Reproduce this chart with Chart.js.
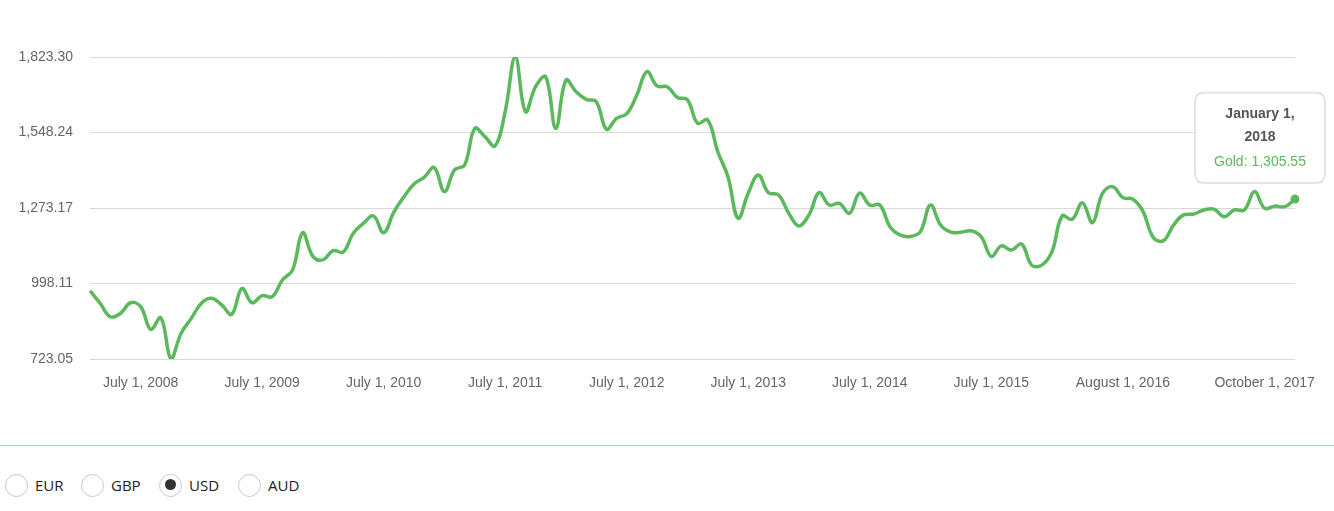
<!DOCTYPE html>
<html>
<head>
<meta charset="utf-8">
<script src="https://cdn.jsdelivr.net/npm/chart.js@4.4.0/dist/chart.umd.min.js"></script>
<style>
    body {
        margin: 0;
        background: #fff;
        font-family: "Helvetica Neue", Helvetica, Arial, "Liberation Sans", sans-serif;
    }
    #chart-card {
        position: relative;
        width: 1334px;
        height: 410px;
    }
    .divider {
        position: absolute;
        top: 445px;
        left: 0;
        width: 1334px;
        border-top: 1px solid #e3c46f;
    }
    .currency {
        position: absolute;
        top: 473px;
        height: 24px;
        display: flex;
        align-items: center;
        font-family: "Open Sans", sans-serif;
        font-size: 15px;
        color: #222;
    }
    .radio {
        box-sizing: border-box;
        width: 23px;
        height: 23px;
        border: 1.5px solid #c9c9c9;
        border-radius: 50%;
        margin-right: 7px;
        position: relative;
    }
    .radio.on::after {
        content: "";
        position: absolute;
        left: 4.5px;
        top: 4.5px;
        width: 11px;
        height: 11px;
        border-radius: 50%;
        background: #333;
    }
</style>
</head>
<body>
<div id="chart-card">
    <canvas id="chart1"></canvas>
</div>
<div class="divider"></div>
<div class="currency" style="left:5px"><span class="radio"></span>EUR</div>
<div class="currency" style="left:81px"><span class="radio"></span>GBP</div>
<div class="currency" style="left:159px"><span class="radio on"></span>USD</div>
<div class="currency" style="left:238px"><span class="radio"></span>AUD</div>

<script>
var monthNames = ["January", "February", "March", "April", "May", "June",
    "July", "August", "September", "October", "November", "December"];

// first point is February 1, 2008, one point per month
var firstMonth = 1;
var firstYear = 2008;

var goldPrices = [
    972, 926, 877, 889, 928, 914, 831, 873, 723.05, 817, 871,
    926, 944, 920, 886, 980, 928, 954, 950, 1011, 1047, 1183, 1098,
    1084, 1118, 1113, 1181, 1217, 1244, 1183, 1258, 1314, 1361, 1385, 1420,
    1333, 1412, 1430, 1563, 1533, 1499, 1624, 1823.30, 1624, 1715, 1751, 1563,
    1739, 1697, 1669, 1660, 1560, 1600, 1616, 1685, 1770, 1718, 1715, 1676,
    1667, 1582, 1594, 1478, 1387, 1236, 1327, 1393, 1329, 1321, 1254, 1208,
    1248, 1329, 1284, 1290, 1254, 1327, 1284, 1284, 1205, 1175, 1169, 1187,
    1284, 1211, 1185, 1185, 1190, 1169, 1097, 1135, 1120, 1142, 1065, 1065,
    1114, 1244, 1232, 1292, 1220, 1327, 1351, 1311, 1305, 1260, 1166, 1154,
    1211, 1248, 1251, 1266, 1269, 1241, 1266, 1266, 1333, 1272, 1280, 1278,
    1305.55
];

var shownTicks = ["July 1, 2008", "July 1, 2009", "July 1, 2010", "July 1, 2011",
    "July 1, 2012", "July 1, 2013", "July 1, 2014", "July 1, 2015",
    "August 1, 2016", "October 1, 2017"];

var yTicks = [723.05, 998.11, 1273.17, 1548.24, 1823.30];

var labels = [];
for (var i = 0; i < goldPrices.length; i++) {
    var m = firstMonth + i;
    labels.push(monthNames[m % 12] + " 1, " + (firstYear + Math.floor(m / 12)));
}

var last = goldPrices.length - 1;
var green = "#5cb85c";
var money = function (v) {
    return v.toLocaleString("en-US", { minimumFractionDigits: 2, maximumFractionDigits: 2 });
};

Chart.Tooltip.positioners.upLeft = function (items) {
    if (!items.length)
        return false;
    return { x: items[0].element.x - 35, y: items[0].element.y };
};

var config = {
    type: "line",
    data: {
        labels: labels,
        datasets: [{
            label: "Gold",
            data: goldPrices,
            borderColor: green,
            backgroundColor: green,
            borderWidth: 3.5,
            tension: 0.4,
            fill: false,
            // only the hovered last point shows its dot
            pointRadius: function (c) { return c.dataIndex === last ? 4.5 : 0; },
            pointBorderWidth: 0,
            pointBackgroundColor: green,
            pointHoverRadius: 4.5,
            pointHoverBorderWidth: 0,
            pointHoverBackgroundColor: green
        }]
    },
    options: {
        responsive: true,
        maintainAspectRatio: false,
        animation: false,
        events: [],
        layout: {
            padding: { left: 0, right: 39, top: 57, bottom: 11 }
        },
        plugins: {
            legend: { display: false },
            tooltip: {
                position: "upLeft",
                xAlign: "center",
                yAlign: "bottom",
                caretSize: 0,
                caretPadding: 16,
                backgroundColor: "#fff",
                borderColor: "#e4e4e4",
                borderWidth: 2,
                cornerRadius: 9,
                padding: { x: 19, y: 13 },
                displayColors: false,
                titleAlign: "center",
                bodyAlign: "center",
                titleColor: "#555",
                bodyColor: green,
                titleFont: { size: 14, weight: "bold" },
                bodyFont: { size: 14 },
                titleSpacing: 6,
                titleMarginBottom: 8,
                callbacks: {
                    title: function (items) {
                        var t = items[0].label;
                        var cut = t.lastIndexOf(" ");
                        return [t.substring(0, cut), t.substring(cut + 1)];
                    },
                    label: function (item) {
                        return item.dataset.label + ": " + money(item.parsed.y);
                    }
                }
            }
        },
        scales: {
            x: {
                grid: { display: false, drawTicks: false },
                border: { display: false },
                afterFit: function (scale) { scale.height = 40; },
                ticks: {
                    autoSkip: false,
                    maxRotation: 0,
                    padding: 16,
                    color: "#666",
                    font: { size: 14 },
                    callback: function (value) {
                        var l = this.getLabelForValue(value);
                        return shownTicks.includes(l) ? l : null;
                    }
                }
            },
            y: {
                min: yTicks[0],
                max: yTicks[yTicks.length - 1],
                grid: { color: "#d9d9d9", drawTicks: false, lineWidth: 1 },
                border: { display: false },
                afterFit: function (scale) { scale.width = 90; },
                afterBuildTicks: function (scale) {
                    scale.ticks = yTicks.map(function (v) { return { value: v }; });
                },
                ticks: {
                    padding: 17,
                    color: "#666",
                    font: { size: 14 },
                    callback: function (value) { return money(value); }
                }
            }
        }
    }
};

Chart.defaults.font.family = '"Helvetica Neue", Helvetica, Arial, "Liberation Sans", sans-serif';

var ctx = document.getElementById("chart1").getContext("2d");
var chart1 = new Chart(ctx, config);

chart1.setActiveElements([{ datasetIndex: 0, index: last }]);
chart1.tooltip.setActiveElements([{ datasetIndex: 0, index: last }], { x: 0, y: 0 });
chart1.update();
</script>
</body>
</html>
